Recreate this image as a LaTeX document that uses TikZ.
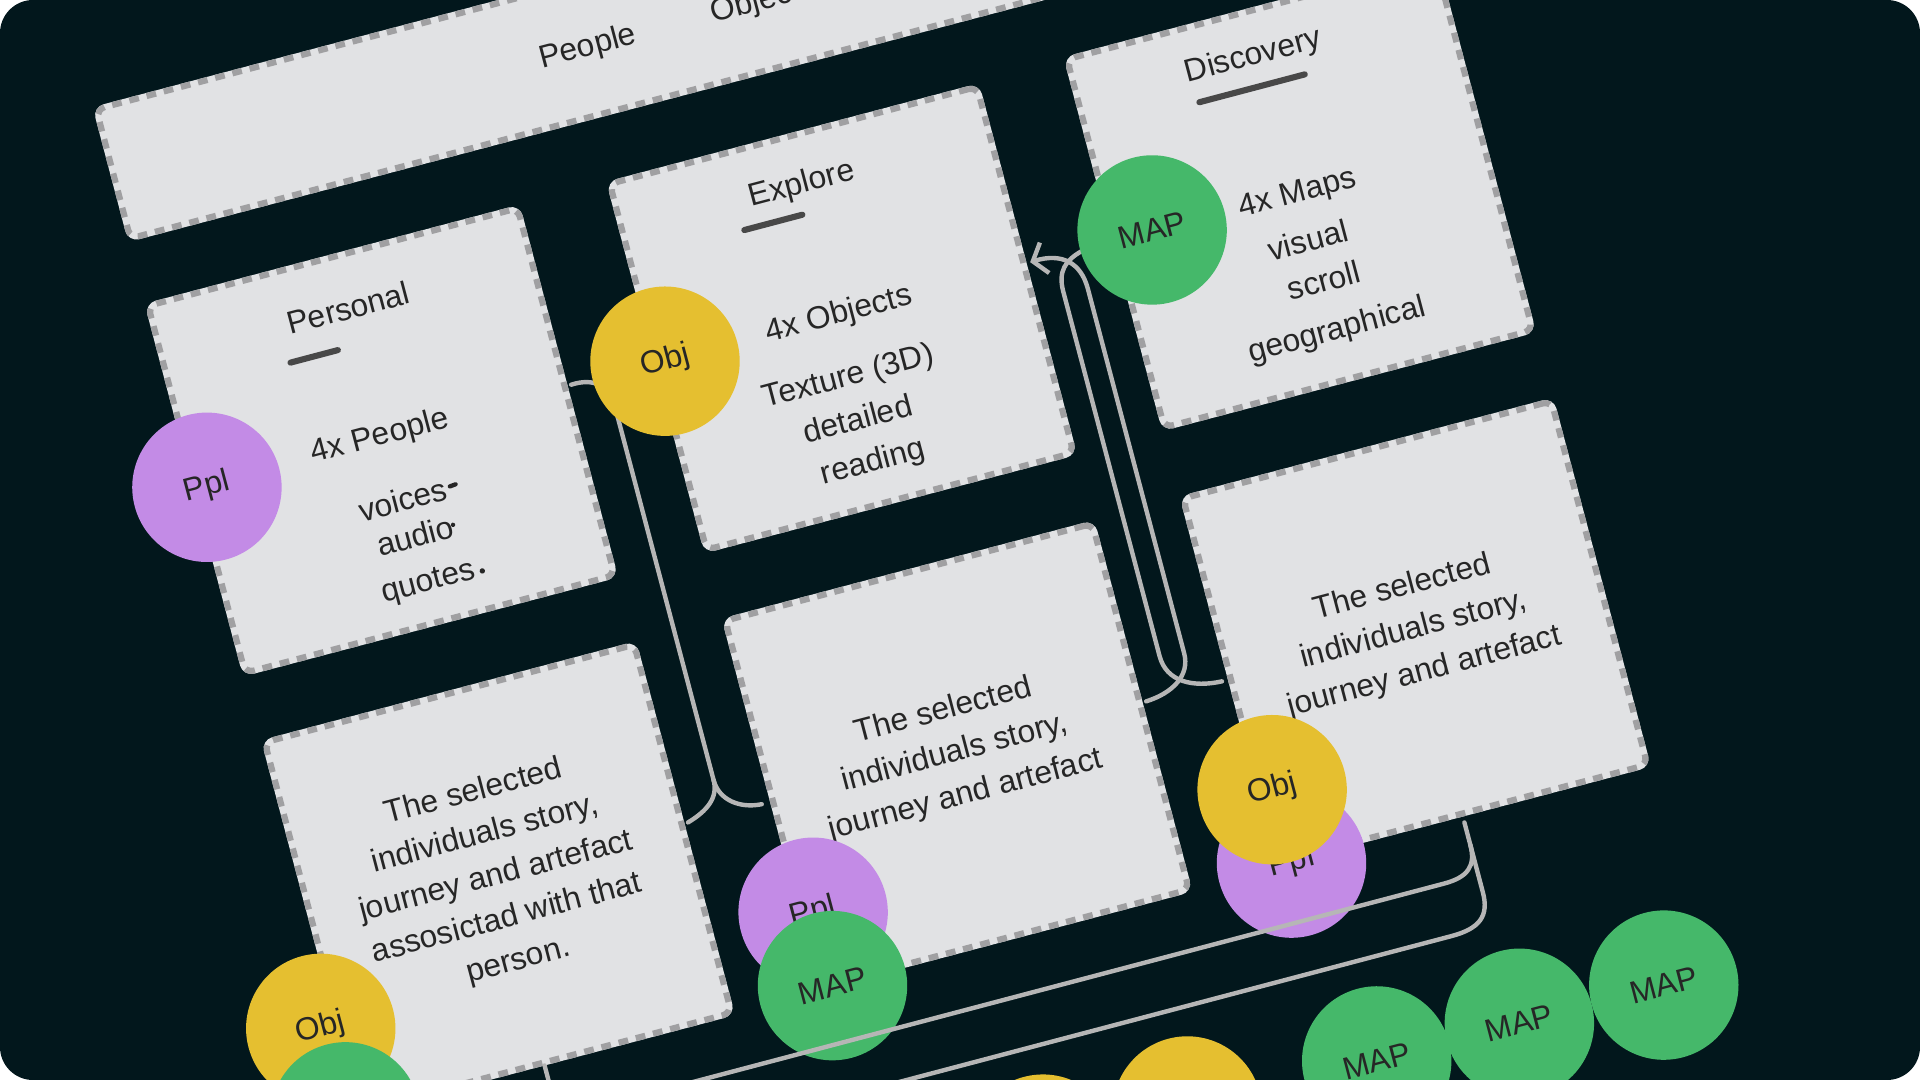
\documentclass[tikz,border=0pt]{standalone}
\usepackage{fontspec}
\setmainfont{Liberation Sans}
\usetikzlibrary{arrows.meta}
\definecolor{bgdark}{RGB}{2,23,28}
\definecolor{cardfill}{RGB}{225,226,228}
\definecolor{carddash}{RGB}{160,160,162}
\definecolor{inktext}{RGB}{38,38,38}
\definecolor{ulgrey}{RGB}{72,72,72}
\definecolor{linkgrey}{RGB}{182,182,182}
\definecolor{pplpurple}{RGB}{195,139,230}
\definecolor{objyellow}{RGB}{229,191,48}
\definecolor{mapgreen}{RGB}{69,184,106}
\tikzset{
  card/.style={fill=cardfill, preaction={draw=cardfill, solid, line width=5pt},
               draw=carddash, line width=5pt, dash pattern=on 8pt off 6.5pt,
               rounded corners=7pt, inner sep=0pt, transform shape, anchor=north west},
  txt/.style={font=\fontsize{26}{35.6}\selectfont, text=inktext, inner sep=0pt, transform shape},
  blob/.style={circle, minimum size=122pt, inner sep=0pt, transform shape,
               font=\fontsize{26}{30}\selectfont, text=inktext},
  pplc/.style={blob, fill=pplpurple},
  objc/.style={blob, fill=objyellow},
  mapc/.style={blob, fill=mapgreen},
  uline/.style={draw=ulgrey, line width=5pt, line cap=round},
  link/.style={draw=linkgrey, line width=3.6pt, line cap=round},
}
\begin{document}
\begin{tikzpicture}[x=1pt,y=-1pt]
\useasboundingbox (0,0) rectangle (1568,882);
\fill[white] (0,0) rectangle (1568,882);
\fill[bgdark, rounded corners=27pt] (0,0) rectangle (1568,882);
\begin{scope}
\clip[rounded corners=27pt] (0,0) rectangle (1568,882);
\begin{scope}[shift={(118,248)}, rotate=14.8]
  % cards
  \node[card, minimum width=1087pt, minimum height=109pt] (band) at (0,-166) {};
  \node[card, minimum width=312pt, minimum height=310pt] (personal) at (0,0) {};
  \node[card, minimum width=310pt, minimum height=309pt] (explore) at (390,0) {};
  \node[card, minimum width=311pt, minimum height=311pt] (discovery) at (777,-3) {};
  \node[card, minimum width=312pt, minimum height=311pt] (cardSL) at (1,369) {};
  \node[card, minimum width=310pt, minimum height=309pt] (cardSM) at (390,369) {};
  \node[card, minimum width=311pt, minimum height=307pt] (cardSR) at (777,368) {};

  % band labels
  \node[txt, anchor=base west] (lPeople) at (363,-103) {People};
  \node[txt, anchor=base west] (lObjects) at (508,-103) {Objects};

  % titles and underlines
  \node[txt, anchor=base] (tPersonal) at (160,55) {Personal};
  \draw[uline] (103,77) -- (143,77);
  \node[txt, anchor=base] (tExplore) at (544,50) {Explore};
  \draw[uline] (489,67) -- (538,67);
  \node[txt, anchor=base] (tDiscovery) at (927,43) {Discovery};
  \draw[uline] (875,61) -- (964,61);

  % personal content
  \node[txt, anchor=base] (p1) at (158,161) {4x People};
  \node[txt, anchor=base] (p2) at (163,218) {voices};
  \node[txt, anchor=base] (p3) at (165.5,249) {audio};
  \node[txt, anchor=base] (p4) at (166,286) {quotes};
  \draw[inktext, line width=3.5pt, line cap=round] (203,208) -- (208,207.5);
  \fill[inktext] (197.5,239) circle (1.8pt);
  \fill[inktext] (211,281.5) circle (2.2pt);

  % explore content
  \node[txt, anchor=base] (e1) at (546,160.5) {4x Objects};
  \node[txt, anchor=base] (e2) at (540.5,212) {Texture (3D)};
  \node[txt, anchor=base] (e3) at (539,248.5) {detailed};
  \node[txt, anchor=base] (e4) at (542,284.5) {reading};

  % discovery content
  \node[txt, anchor=base] (d1) at (933.5,160.5) {4x Maps};
  \node[txt, anchor=base] (d2) at (932,201.5) {visual};
  \node[txt, anchor=base] (d3) at (936,237) {scroll};
  \node[txt, anchor=base] (d4) at (936,277) {geographical};

  % lower card texts
  \node[txt, align=center] (sl) at (158,526) {The selected\\individuals story,\\journey and artefact\\assosictad with that\\person.};
  \node[txt, align=center] (sm) at (546,524) {The selected\\individuals story,\\journey and artefact};
  \node[txt, align=center] (sr) at (934,522.5) {The selected\\individuals story,\\journey and artefact};

  % vertical brackets (behind circles)
  \coordinate (b1top) at (320,153);
  \coordinate (b1split) at (350,495);
  \coordinate (b1left) at (321,523);
  \coordinate (b1right) at (383,524);
  \draw[link] (b1top) .. controls (340,152) and (350,162) .. (350,180) -- (b1split);
  \draw[link] (b1split) .. controls (350,512) and (365,523) .. (b1right);
  \draw[link] (b1split) .. controls (350,510) and (338,518) .. (b1left);

  \coordinate (aTip) at (708,152);
  \coordinate (aEnd) at (708,523);
  \coordinate (bStart) at (751,154);
  \coordinate (bEnd) at (772,523);
  \draw[link, -{Straight Barb[length=10pt,width=26pt]}] (aEnd) .. controls (730,522) and (748,512) .. (748,493)
      -- (748,185) .. controls (748,163) and (735,151) .. (aTip);
  \draw[link] (bStart) .. controls (736,158) and (728,165) .. (728,182)
      -- (728,490) .. controls (728,512) and (748,522) .. (bEnd);

  % circles
  \node[pplc] (ppl1) at (11,158) {Ppl};
  \node[objc] (obj1) at (399,154) {Obj};
  \node[mapc] (map1) at (811,152) {MAP};
  \node[objc] (obj2) at (-12,609) {Obj};
  \node[mapc] (map2) at (-11,684) {};
  \node[pplc] (ppl2) at (401,620) {Ppl};
  \node[mapc] (map3) at (401,682) {MAP};
  \node[pplc] (ppl3) at (789,681) {Ppl};
  \node[objc] (obj3) at (789,619) {Obj};
  \node[objc] (obj4) at (533,855) {};
  \node[objc] (obj5) at (655,855) {};
  \node[mapc] (map4) at (815,855) {MAP};
  \node[mapc] (map5) at (935.5,855) {MAP};
  \node[mapc] (map6) at (1057.5,855) {MAP};

  % bottom bracket (over circles)
  \coordinate (lstub) at (157,685);
  \coordinate (rstub) at (934,685);
  \draw[link] (lstub) -- (157,704) .. controls (157,722) and (166,729) .. (182,729)
      -- (905,729) .. controls (925,729) and (934,722) .. (934,704) -- (rstub);
  \draw[link] (157,704) -- (157,745) .. controls (157,764) and (166,772) .. (182,772)
      -- (900,772) .. controls (924,772) and (934,764) .. (934,744) -- (934,704);
\end{scope}
\end{scope}
\end{tikzpicture}
\end{document}
